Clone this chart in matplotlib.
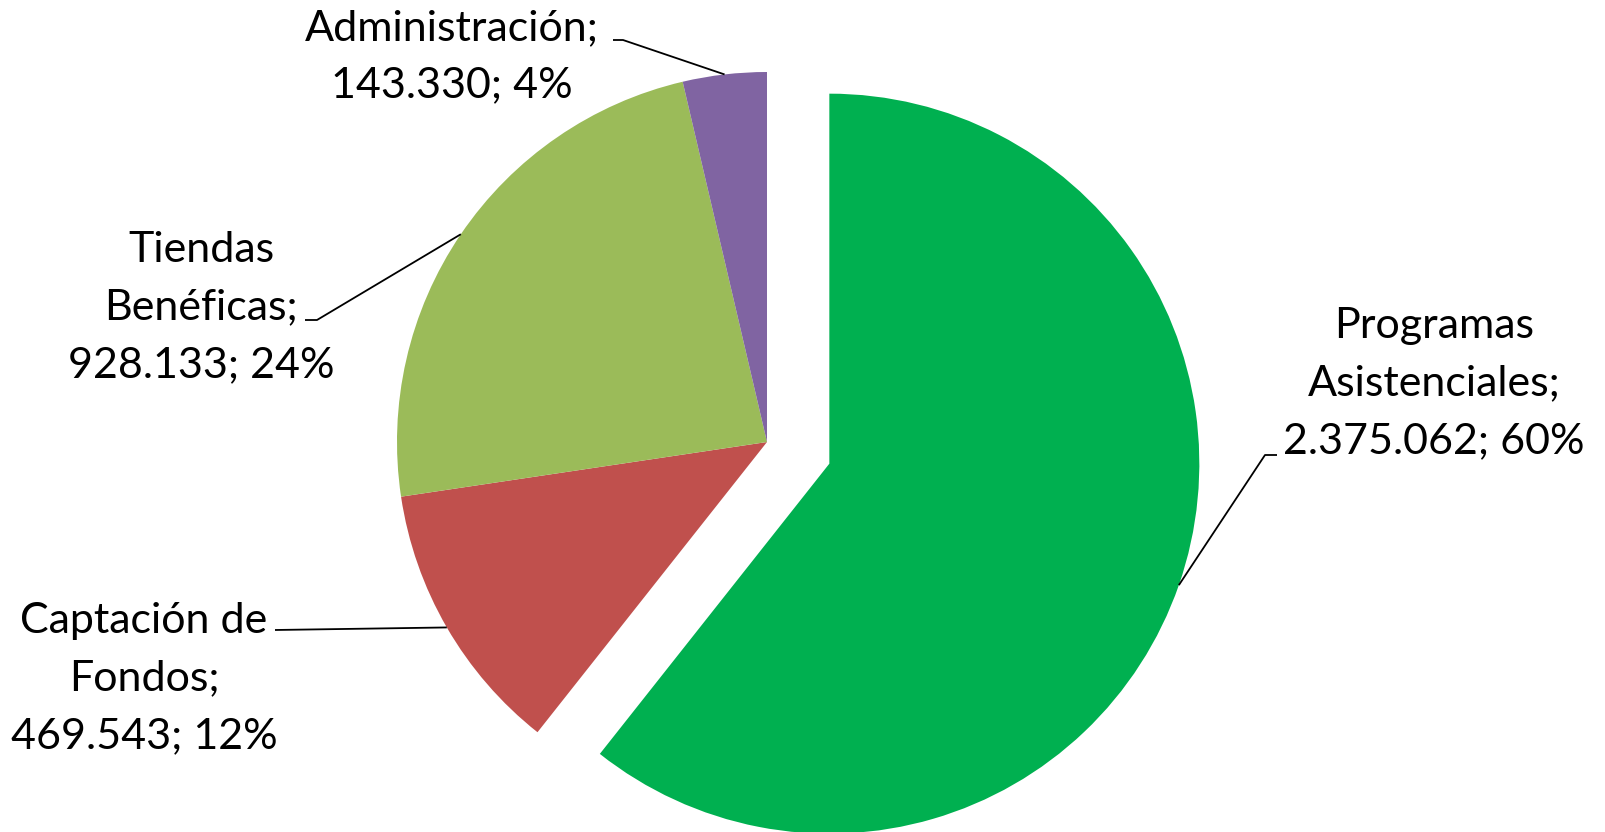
import numpy as np
import matplotlib
matplotlib.use('Agg')
import matplotlib.pyplot as plt

# %% Data
categories = ['Programas\nAsistenciales', 'Captación de\nFondos',
              'Tiendas\nBenéficas', 'Administración']
values = [2375062, 469543, 928133, 143330]
value_labels = ['2.375.062', '469.543', '928.133', '143.330']
pct_labels = ['60%', '12%', '24%', '4%']
colors = ['#00B050', '#C0504D', '#9BBB59', '#8064A2']

# %% Layout (pixel units, y measured from top)
W, H = 1606, 832
center = (767, H - 442)
radius = 370
explode = [66, 0, 0, 0]

label_lines = [
    ['Programas', 'Asistenciales;', '2.375.062; 60%'],
    ['Captación de', 'Fondos;', '469.543; 12%'],
    ['Tiendas', 'Benéficas;', '928.133; 24%'],
    ['Administración;', '143.330; 4%'],
]
# (x centre, first baseline from top)
label_pos = [(1434, 338), (144, 633), (201, 262), (452, 40)]
line_step = 57.5
# leader line start + elbow (from top)
leader_pts = [
    [(1277, 455), (1265, 455)],
    [(275, 630)],
    [(305, 320), (317, 320)],
    [(613, 40), (623, 40)],
]

# %% Plot
fig = plt.figure(figsize=(W / 100, H / 100), dpi=100)
ax = fig.add_axes([0, 0, 1, 1])
ax.axis('off')

wedges, _ = ax.pie(values, colors=colors, startangle=90, counterclock=False,
                   explode=explode, radius=radius, center=center,
                   wedgeprops=dict(linewidth=0))
ax.set_xlim(0, W)
ax.set_ylim(0, H)
ax.set_aspect('equal')

for i, w in enumerate(wedges):
    # leader line to the middle of the slice edge
    mid = np.deg2rad((w.theta1 + w.theta2) / 2)
    ex = w.center[0] + w.r * np.cos(mid)
    ey = w.center[1] + w.r * np.sin(mid)
    xs = [p[0] for p in leader_pts[i]] + [ex]
    ys = [H - p[1] for p in leader_pts[i]] + [ey]
    ax.plot(xs, ys, color='black', linewidth=1.3, solid_capstyle='butt')

    x0, y0 = label_pos[i]
    for k, line in enumerate(label_lines[i]):
        ax.text(x0, H - (y0 + k * line_step), line, ha='center', va='baseline',
                fontsize=31, family='Lato', color='black')

fig.savefig('out.png', dpi=100, facecolor='white')
